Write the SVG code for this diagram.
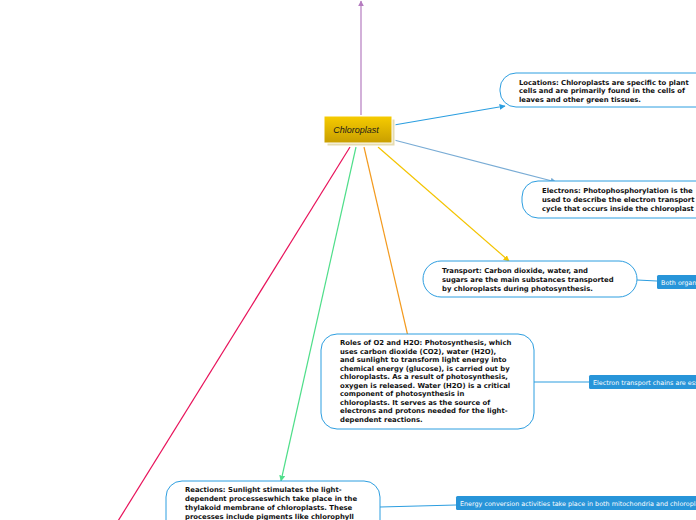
<svg xmlns="http://www.w3.org/2000/svg" width="696" height="520" viewBox="0 0 696 520">
<defs>
<linearGradient id="gold" x1="0" y1="0" x2="0" y2="1">
<stop offset="0" stop-color="#f7cc00"/>
<stop offset="1" stop-color="#c89e00"/>
</linearGradient>
<marker id="mPurple" viewBox="0 0 10 10" refX="9" refY="5" markerWidth="6" markerHeight="6" orient="auto" markerUnits="userSpaceOnUse"><path d="M0,0 L10,5 L0,10 z" fill="#b57cc0"/></marker>
<marker id="mBlue" viewBox="0 0 10 10" refX="9" refY="5" markerWidth="6" markerHeight="6" orient="auto" markerUnits="userSpaceOnUse"><path d="M0,0 L10,5 L0,10 z" fill="#2a9ee0"/></marker>
<marker id="mSteel" viewBox="0 0 10 10" refX="9" refY="5" markerWidth="6" markerHeight="6" orient="auto" markerUnits="userSpaceOnUse"><path d="M0,0 L10,5 L0,10 z" fill="#79acd5"/></marker>
<marker id="mYellow" viewBox="0 0 10 10" refX="9" refY="5" markerWidth="6" markerHeight="6" orient="auto" markerUnits="userSpaceOnUse"><path d="M0,0 L10,5 L0,10 z" fill="#f4c400"/></marker>
<marker id="mOrange" viewBox="0 0 10 10" refX="9" refY="5" markerWidth="6" markerHeight="6" orient="auto" markerUnits="userSpaceOnUse"><path d="M0,0 L10,5 L0,10 z" fill="#f39a1e"/></marker>
<marker id="mGreen" viewBox="0 0 10 10" refX="9" refY="5" markerWidth="6" markerHeight="6" orient="auto" markerUnits="userSpaceOnUse"><path d="M0,0 L10,5 L0,10 z" fill="#4fde8a"/></marker>
</defs>
<style>
.box{fill:#ffffff;stroke:#2d9ee0;stroke-width:1}
.t{font-family:"DejaVu Sans",Verdana,sans-serif;font-weight:bold;font-size:6.85px;fill:#111}
.lab{fill:#2895d9}
.lt{font-family:"DejaVu Sans",Verdana,sans-serif;font-size:6.4px;fill:#ffffff}
.c{fill:none;stroke-width:1.2}
.sub{fill:none;stroke:#2d9ee0;stroke-width:1.2}
</style>
<rect width="696" height="520" fill="#ffffff"/>
<g id="connectors">
<line class="c" x1="361" y1="115" x2="361" y2="1" stroke="#b57cc0" marker-end="url(#mPurple)"/>
<line class="c" x1="394" y1="125" x2="505" y2="106" stroke="#2a9ee0" marker-end="url(#mBlue)"/>
<line class="c" x1="394" y1="140" x2="556" y2="182" stroke="#79acd5" marker-end="url(#mSteel)"/>
<line class="c" x1="378" y1="147" x2="509" y2="261" stroke="#f4c400" marker-end="url(#mYellow)"/>
<line class="c" x1="364" y1="147" x2="413" y2="358" stroke="#f39a1e" marker-end="url(#mOrange)"/>
<line class="c" x1="356" y1="147" x2="281" y2="481" stroke="#4fde8a" marker-end="url(#mGreen)"/>
<line class="c" x1="350" y1="147" x2="118" y2="521" stroke="#e8125a"/>
<line class="sub" x1="637" y1="280" x2="657" y2="281"/>
<line class="sub" x1="534" y1="382" x2="590" y2="382"/>
<line class="sub" x1="380" y1="507" x2="456" y2="505"/>
</g>
<g id="central">
<rect x="327" y="119" width="68" height="27" fill="#e6dcb0" stroke="#ffffff" stroke-width="1"/>
<rect x="324" y="116" width="68" height="27" fill="url(#gold)" stroke="#ffffff" stroke-width="1"/>
<text x="356" y="132.5" text-anchor="middle" font-family="Liberation Sans, Arial, sans-serif" font-style="italic" font-size="9" fill="#1a1a1a">Chloroplast</text>
</g>
<g id="locations">
<rect class="box" x="500" y="73" width="230" height="34" rx="16"/>
<text class="t" x="519" y="84.5">Locations: Chloroplasts are specific to plant</text>
<text class="t" x="519" y="93.2">cells and are primarily found in the cells of</text>
<text class="t" x="519" y="102">leaves and other green tissues.</text>
</g>
<g id="electrons">
<rect class="box" x="522" y="181" width="220" height="37" rx="16"/>
<text class="t" x="542" y="192.5">Electrons: Photophosphorylation is the</text>
<text class="t" x="542" y="201.5">used to describe the electron transport</text>
<text class="t" x="542" y="210.5">cycle that occurs inside the chloroplast</text>
</g>
<g id="transport">
<rect class="box" x="423" y="261" width="214" height="36" rx="18"/>
<text class="t" x="442" y="272.5">Transport: Carbon dioxide, water, and</text>
<text class="t" x="442" y="281.5">sugars are the main substances transported</text>
<text class="t" x="442" y="290.5">by chloroplasts during photosynthesis.</text>
</g>
<g id="both">
<rect class="lab" x="657" y="275" width="60" height="14" rx="1.5"/>
<text class="lt" x="661" y="284.5">Both organelles</text>
</g>
<g id="roles">
<rect class="box" x="321" y="334" width="213" height="95" rx="16"/>
<text class="t" x="340" y="345">Roles of O2 and H2O: Photosynthesis, which</text>
<text class="t" x="340" y="353.5">uses carbon dioxide (CO2), water (H2O),</text>
<text class="t" x="340" y="362">and sunlight to transform light energy into</text>
<text class="t" x="340" y="370.5">chemical energy (glucose), is carried out by</text>
<text class="t" x="340" y="379">chloroplasts. As a result of photosynthesis,</text>
<text class="t" x="340" y="387.5">oxygen is released. Water (H2O) is a critical</text>
<text class="t" x="340" y="396">component of photosynthesis in</text>
<text class="t" x="340" y="404.5">chloroplasts. It serves as the source of</text>
<text class="t" x="340" y="413">electrons and protons needed for the light-</text>
<text class="t" x="340" y="421.5">dependent reactions.</text>
</g>
<g id="etc">
<rect class="lab" x="589" y="375" width="130" height="14" rx="1.5"/>
<text class="lt" x="593" y="384.5">Electron transport chains are essential</text>
</g>
<g id="reactions">
<rect class="box" x="166" y="481" width="214" height="60" rx="16"/>
<text class="t" x="185" y="492">Reactions: Sunlight stimulates the light-</text>
<text class="t" x="185" y="501">dependent processeswhich take place in the</text>
<text class="t" x="185" y="510">thylakoid membrane of chloroplasts. These</text>
<text class="t" x="185" y="519">processes include pigments like chlorophyll</text>
</g>
<g id="energy">
<rect class="lab" x="456" y="496" width="260" height="14" rx="1.5"/>
<text class="lt" x="460" y="505.5">Energy conversion activities take place in both mitochondria and chloroplasts</text>
</g>
</svg>
